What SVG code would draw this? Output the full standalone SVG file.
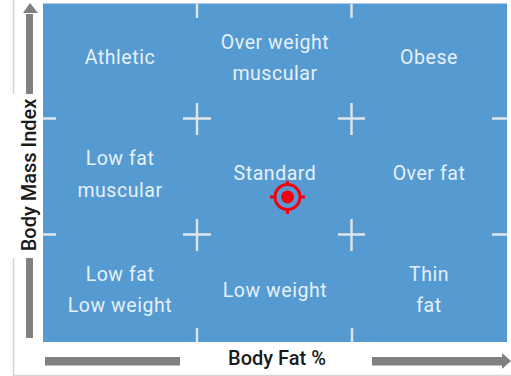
<svg xmlns="http://www.w3.org/2000/svg" width="511" height="376" viewBox="0 0 511 376">
<style>
.t{font-family:Roboto,"Liberation Sans",sans-serif;font-size:19.5px;fill:#e6f0f8;text-anchor:middle;letter-spacing:.55px}
.b{font-family:Roboto,"Liberation Sans",sans-serif;font-size:20px;font-weight:500;fill:#1a1a1a;text-anchor:middle}
.w{stroke:#dfe6ea;stroke-width:2.4;fill:none}
.a{fill:#808080}
.e{stroke:#d4d4d4;stroke-width:1.5;fill:none}
</style>
<rect width="511" height="376" fill="#fff"/>
<g id="frame">
<path class="e" d="M13.500 0V94M13.500 258V375.500H511"/>
<rect x="43" y="3.500" width="464" height="338.500" fill="#559bd2"/>
</g>
<g id="grid">
<path class="w" d="M197 4V18M351.500 4V18M197 103V135M183 118.500H211M351.500 103V135M338 118.500H365M197 219V251M183 234.500H211M351.500 219V251M338 234.500H365M197 328V342M352 328V342M43 118.500H56M43 234.500H56M492 118.500H507M492 234.500H507"/>
</g>
<g id="labels">
<g id="athletic"><text class="t" x="120" y="64">Athletic</text></g>
<g id="overweight-muscular"><text class="t" x="275" y="49">Over weight</text><text class="t" x="275" y="80">muscular</text></g>
<g id="obese"><text class="t" x="429" y="64">Obese</text></g>
<g id="lowfat-muscular"><text class="t" x="120" y="165">Low fat</text><text class="t" x="120" y="197">muscular</text></g>
<g id="standard"><text class="t" x="275" y="180">Standard</text></g>
<g id="overfat"><text class="t" x="429" y="180">Over fat</text></g>
<g id="lowfat-lowweight"><text class="t" x="120" y="281">Low fat</text><text class="t" x="120" y="312">Low weight</text></g>
<g id="lowweight"><text class="t" x="275" y="297">Low weight</text></g>
<g id="thinfat"><text class="t" x="429" y="281">Thin</text><text class="t" x="429" y="312">fat</text></g>
</g>
<g id="marker">
<circle cx="287.500" cy="197" r="12.500" fill="none" stroke="#f5000f" stroke-width="3"/>
<circle cx="287.500" cy="197" r="6.500" fill="#f5000f"/>
<path d="M287.500 181V186M287.500 208V214M270 197H276M299 197H305" stroke="#f5000f" stroke-width="3"/>
</g>
<g id="axes">
<rect class="a" x="26" y="14" width="7" height="80"/>
<path class="a" d="M30 3L38 13H23Z"/>
<rect class="a" x="26" y="258" width="7" height="80"/>
<text class="b" transform="translate(35.500 175) rotate(-90)">Body Mass Index</text>
<rect class="a" x="45" y="357" width="135" height="8.500"/>
<rect class="a" x="372" y="357" width="131" height="8.500"/>
<path class="a" d="M511 361L502 353V369Z"/>
<text class="b" x="277" y="365">Body Fat %</text>
</g>
</svg>
